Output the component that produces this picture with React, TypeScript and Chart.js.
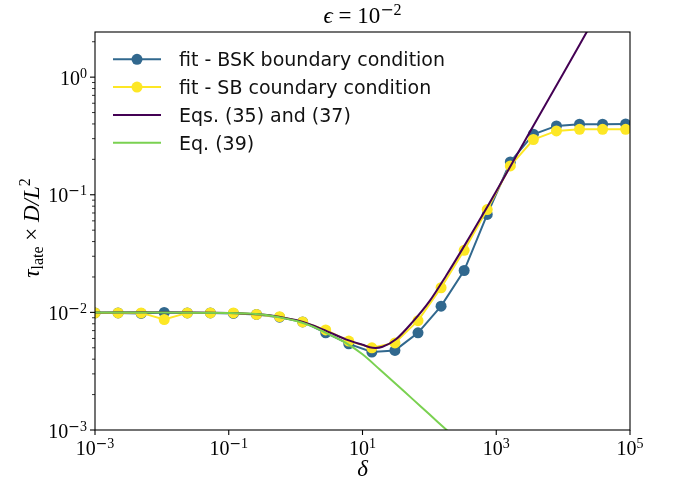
import React, { useEffect, useRef } from 'react';
import { Chart, registerables } from 'chart.js';

Chart.register(...registerables);

// ---------- data ----------
const fitDelta = [
  0.001, 0.002213, 0.004898, 0.01084, 0.02399, 0.05309, 0.1175, 0.26, 0.5754, 1.274, 2.818, 6.237,
  13.8, 30.55, 67.61, 149.6, 331.1, 732.8, 1622, 3589, 7943, 17580, 38900, 86100,
];
const bskValues = [
  0.0099, 0.0099, 0.0098, 0.01, 0.0099, 0.0099, 0.0098, 0.0096, 0.0091, 0.0083, 0.0067, 0.0054,
  0.0046, 0.00475, 0.0067, 0.0113, 0.0227, 0.068, 0.19, 0.327, 0.385, 0.398, 0.398, 0.4,
];
const sbValues = [
  0.0099, 0.0099, 0.0099, 0.0087, 0.0099, 0.0099, 0.0099, 0.0096, 0.0092, 0.0083, 0.0071, 0.0057,
  0.005, 0.0055, 0.0085, 0.0162, 0.0337, 0.0748, 0.176, 0.295, 0.349, 0.36, 0.36, 0.36,
];
const eq3537Delta = [
  0.001, 0.03162, 0.1, 0.3162, 0.5623, 1, 1.778, 3.162, 5.623, 10, 14.13, 19.95, 31.62, 56.23, 100,
  177.8, 316.2, 562.3, 1000, 3162, 10000, 31623,
];
const eq3537Values = [
  0.01, 0.01, 0.0099, 0.0096, 0.0092, 0.0086, 0.0078, 0.0068, 0.0059, 0.0053, 0.005, 0.0051, 0.0059,
  0.0083, 0.0124, 0.0205, 0.035, 0.061, 0.107, 0.34, 1.07, 3.4,
];
const eq39Delta = [0.001, 0.1, 0.3162, 1, 1.778, 3.162, 5.623, 10, 17.78, 31.62, 56.23, 100, 177.8, 316.2];
const eq39Values = [
  0.01, 0.0099, 0.0096, 0.0085, 0.0076, 0.0065, 0.0055, 0.0044, 0.0033, 0.00246, 0.00183, 0.00136,
  0.00101, 0.00075,
];
const xTickExponents = [-3, -1, 1, 3, 5];
const yTickExponents = [-3, -2, -1, 0];
const legendLabels = [
  'fit - BSK boundary condition',
  'fit - SB coundary condition',
  'Eqs. (35) and (37)',
  'Eq. (39)',
];

const X_MIN = 1e-3;
const X_MAX = 1e5;
const Y_MIN = 1e-3;
const Y_MAX = 2.42;

const C_BSK = '#31688e';
const C_SB = '#fde725';
const C_EQ3537 = '#440154';
const C_EQ39 = '#7ad151';

const SERIF = '"Liberation Serif", "DejaVu Serif", serif';
const MINUS_FONT = '"DejaVu Serif", serif';
const SANS = '"DejaVu Sans", sans-serif';

type Part = { t: string; font: string; dy: number };

function drawParts(ctx: CanvasRenderingContext2D, parts: Part[], x: number, y: number, align: 'left' | 'center' | 'right') {
  ctx.textAlign = 'left';
  ctx.textBaseline = 'alphabetic';
  let total = 0;
  const widths = parts.map((p) => {
    ctx.font = p.font;
    const w = ctx.measureText(p.t).width;
    total += w;
    return w;
  });
  let cx = align === 'left' ? x : align === 'center' ? x - total / 2 : x - total;
  parts.forEach((p, i) => {
    ctx.font = p.font;
    ctx.fillText(p.t, cx, y + p.dy);
    cx += widths[i];
  });
}

function expParts(e: number, big: number, small: number, rise: number): Part[] {
  const parts: Part[] = [{ t: '10', font: `${big}px ${SERIF}`, dy: 0 }];
  if (e < 0) parts.push({ t: '\u2212', font: `${small}px ${MINUS_FONT}`, dy: -rise });
  parts.push({ t: String(Math.abs(e)), font: `${small}px ${SERIF}`, dy: -rise });
  return parts;
}

const mplPlugin = {
  id: 'mplAxes',
  afterDraw(chart: any) {
    const ctx: CanvasRenderingContext2D = chart.ctx;
    const { left, right, top, bottom } = chart.chartArea;
    const xs = chart.scales.x;
    const ys = chart.scales.y;
    ctx.save();
    ctx.fillStyle = '#000';
    ctx.strokeStyle = '#000';
    ctx.lineWidth = 1.1;
    // frame
    ctx.strokeRect(left, top, right - left, bottom - top);

    // x ticks
    xTickExponents.forEach((e) => {
      const px = xs.getPixelForValue(Math.pow(10, e));
      ctx.beginPath();
      ctx.moveTo(px, bottom);
      ctx.lineTo(px, bottom + 5);
      ctx.stroke();
      drawParts(ctx, expParts(e, 20, 14, 7), px, bottom + 25, 'center');
    });

    // y ticks
    ctx.lineWidth = 0.8;
    yTickExponents.forEach((e) => {
      for (let m = 2; m <= 9; m++) {
        const v = m * Math.pow(10, e);
        if (v > Y_MAX) continue;
        const py = ys.getPixelForValue(v);
        ctx.beginPath();
        ctx.moveTo(left - 3, py);
        ctx.lineTo(left, py);
        ctx.stroke();
      }
    });
    ctx.lineWidth = 1.1;
    yTickExponents.forEach((e) => {
      const py = ys.getPixelForValue(Math.pow(10, e));
      ctx.beginPath();
      ctx.moveTo(left - 5, py);
      ctx.lineTo(left, py);
      ctx.stroke();
      drawParts(ctx, expParts(e, 20, 14, 7), left - 8, py + 7.5, 'right');
    });

    // title
    drawParts(
      ctx,
      [
        { t: '\u03f5', font: `italic 23px ${SERIF}`, dy: 0 },
        { t: ' = 10', font: `23px ${SERIF}`, dy: 0 },
        { t: '\u2212', font: `16px ${MINUS_FONT}`, dy: -8 },
        { t: '2', font: `16px ${SERIF}`, dy: -8 },
      ],
      (left + right) / 2,
      top - 9,
      'center'
    );

    // x label
    drawParts(ctx, [{ t: '\u03b4', font: `italic 23px ${SERIF}`, dy: 0 }], (left + right) / 2, bottom + 46, 'center');

    // y label
    ctx.save();
    ctx.translate(39, 228);
    ctx.rotate(-Math.PI / 2);
    drawParts(
      ctx,
      [
        { t: '\u03c4', font: `italic 23px ${SERIF}`, dy: 0 },
        { t: 'late', font: `16px ${SERIF}`, dy: 4 },
        { t: ' \u00d7 ', font: `23px ${SERIF}`, dy: 0 },
        { t: 'D/L', font: `italic 23px ${SERIF}`, dy: 0 },
        { t: '2', font: `16px ${SERIF}`, dy: -9 },
      ],
      0,
      0,
      'center'
    );
    ctx.restore();

    // legend
    const colors = [C_BSK, C_SB, C_EQ3537, C_EQ39];
    const markers = [true, true, false, false];
    legendLabels.forEach((lab, i) => {
      const y = 59.3 + i * 27.8;
      ctx.strokeStyle = colors[i];
      ctx.lineWidth = 2;
      ctx.beginPath();
      ctx.moveTo(113, y);
      ctx.lineTo(161, y);
      ctx.stroke();
      if (markers[i]) {
        ctx.fillStyle = colors[i];
        ctx.beginPath();
        ctx.arc(137, y, 5.5, 0, Math.PI * 2);
        ctx.fill();
      }
      ctx.fillStyle = '#111';
      ctx.font = `19px ${SANS}`;
      ctx.textAlign = 'left';
      ctx.textBaseline = 'alphabetic';
      ctx.fillText(lab, 179, y + 7);
    });
    ctx.restore();
  },
};

function toPoints(xs: number[], ys: number[]) {
  return xs.map((x, i) => ({ x, y: ys[i] }));
}

export default function App() {
  const ref = useRef<HTMLCanvasElement | null>(null);
  useEffect(() => {
    if (!ref.current) return;
    const chart = new Chart(ref.current, {
      type: 'line',
      data: {
        datasets: [
          {
            label: legendLabels[0],
            data: toPoints(fitDelta, bskValues),
            borderColor: C_BSK,
            backgroundColor: C_BSK,
            borderWidth: 2,
            pointRadius: 5.5,
            pointBorderWidth: 0,
            order: 3,
            clip: 0,
          },
          {
            label: legendLabels[1],
            data: toPoints(fitDelta, sbValues),
            borderColor: C_SB,
            backgroundColor: C_SB,
            borderWidth: 2,
            pointRadius: 5.5,
            pointBorderWidth: 0,
            order: 2,
            clip: 0,
          },
          {
            label: legendLabels[2],
            data: toPoints(eq3537Delta, eq3537Values),
            borderColor: C_EQ3537,
            borderWidth: 2,
            pointRadius: 0,
            tension: 0.3,
            order: 1,
            clip: 0,
          },
          {
            label: legendLabels[3],
            data: toPoints(eq39Delta, eq39Values),
            borderColor: C_EQ39,
            borderWidth: 2,
            pointRadius: 0,
            tension: 0.3,
            order: 0,
            clip: 0,
          },
        ] as any,
      },
      options: {
        animation: false,
        responsive: false,
        events: [],
        layout: { padding: { left: 95, right: 48, top: 32, bottom: 54 } },
        plugins: { legend: { display: false }, tooltip: { enabled: false }, title: { display: false } },
        scales: {
          x: { type: 'logarithmic', min: X_MIN, max: X_MAX, display: false },
          y: { type: 'logarithmic', min: Y_MIN, max: Y_MAX, display: false },
        },
      },
      plugins: [mplPlugin],
    });
    return () => chart.destroy();
  }, []);
  return (
    <div style={{ position: 'fixed', left: 0, top: 0, width: 678, height: 484, background: '#fff' }}>
      <canvas ref={ref} width={678} height={484} style={{ display: 'block', width: 678, height: 484 }} />
    </div>
  );
}
